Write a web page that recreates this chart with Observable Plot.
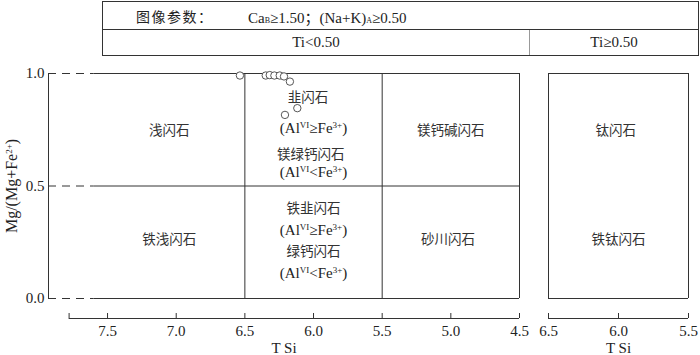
<!DOCTYPE html>
<html><head><meta charset="utf-8">
<script src="https://cdn.jsdelivr.net/npm/d3@7"></script>
<script src="https://cdn.jsdelivr.net/npm/@observablehq/plot@0.6"></script>
<style>
body{margin:0;background:#fff;}
#wrap{position:relative;width:700px;height:355px;font-family:"Liberation Serif","Noto Sans CJK SC",serif;color:#222;overflow:hidden;}
#hdr{position:absolute;left:102px;top:1px;width:597px;height:55px;border:1px solid #333;box-sizing:border-box;font-size:15px;}
#row1{position:absolute;left:0;top:0;width:100%;height:28px;border-bottom:1px solid #333;box-sizing:border-box;}
#hp{position:absolute;left:33px;top:4px;font-size:14px;letter-spacing:1.5px;}
#hc{position:absolute;left:145px;top:4px;}
#hc sub{font-size:8px;vertical-align:baseline;}
#ti1{position:absolute;left:0;top:28px;width:426px;height:25px;border-right:1px solid #999;text-align:center;line-height:25px;}
#ti2{position:absolute;left:427px;top:28px;right:0;height:25px;text-align:center;line-height:25px;}
#pl,#pr{position:absolute;top:0;}
#pl{left:0;} #pr{left:530px;}
</style></head>
<body><div id="wrap">
<div id="hdr"><div id="row1"><span id="hp"></span><span id="hc"></span></div><div id="ti1"></div><div id="ti2"></div></div>
<div id="pl"></div><div id="pr"></div>
</div>
<script>
// ---- data ----
const headerParam = "图像参数：";
const headerCond = "Ca<sub>B</sub>≥1.50；(Na+K)<sub>A</sub>≥0.50";
const tiLabels = ["Ti<0.50", "Ti≥0.50"];

const boundaryY = [0, 0.5, 1];
const frameX = 7.93, boxStartX = 7.6, boxEndX = 4.5, axisEndX = 7.78;
const dividerX = [6.5, 5.5, 4.5];
const xTicksLeft = [7.5, 7.0, 6.5, 6.0, 5.5, 5.0, 4.5];
const xTicksRight = [6.5, 6.0, 5.5];
const yTicks = [0, 0.5, 1.0];
const xTitle = "T Si";
const yTitle = "Mg/(Mg+Fe^{2+})";

const ptsTSi = [6.536, 6.348, 6.319, 6.285, 6.246, 6.215, 6.172, 6.118, 6.208];
const ptsMg  = [0.991, 0.991, 0.993, 0.991, 0.991, 0.987, 0.964, 0.846, 0.816];

const labelNames = ["浅闪石","铁浅闪石","韭闪石","(Al^{VI}≥Fe^{3+})","镁绿钙闪石","(Al^{VI}<Fe^{3+})",
  "铁韭闪石","(Al^{VI}≥Fe^{3+})","绿钙闪石","(Al^{VI}<Fe^{3+})","镁钙碱闪石","砂川闪石"];
const labelX = [7.05, 7.05, 6.04, 6.0, 6.02, 6.0, 6.0, 6.0, 6.0, 6.0, 5.0, 5.02];
const labelY = [0.747, 0.26, 0.893, 0.756, 0.64, 0.56, 0.40, 0.302, 0.206, 0.112, 0.747, 0.26];

const rightNames = ["钛闪石","铁钛闪石"];
const rightX = [6.02, 6.0];
const rightY = [0.747, 0.26];

// ---- header ----
document.getElementById("hp").textContent = headerParam;
document.getElementById("hc").innerHTML = headerCond;
document.getElementById("ti1").textContent = tiLabels[0];
document.getElementById("ti2").textContent = tiLabels[1];

const points = ptsTSi.map((x, i) => ({x, y: ptsMg[i]}));
const labels = labelNames.map((t, i) => ({t, x: labelX[i], y: labelY[i]}));
const rlabels = rightNames.map((t, i) => ({t, x: rightX[i], y: rightY[i]}));
const isLatin = d => d.t.startsWith("(");

const ink = "#333";
const font = {fontFamily: '"Liberation Serif","Noto Sans CJK SC",serif', fontSize: "15px", background: "transparent", color: "#222"};

const left = Plot.plot({
  width: 530, height: 355,
  marginLeft: 48, marginRight: 11, marginTop: 73, marginBottom: 37,
  insetBottom: 20,
  style: font,
  x: {domain: [frameX, boxEndX]},
  y: {domain: [0, 1]},
  marks: [
    Plot.ruleY(boundaryY, {x1: () => frameX, x2: () => boxStartX, stroke: ink, strokeDasharray: "8,6"}),
    Plot.ruleY(boundaryY, {x1: () => boxStartX, x2: () => boxEndX, stroke: ink}),
    Plot.ruleX([frameX], {y1: () => 0, y2: () => 1, stroke: ink}),
    Plot.ruleX(dividerX, {y1: () => 0, y2: () => 1, stroke: ink}),
    Plot.ruleY([0], {x1: () => axisEndX, x2: () => boxEndX, dy: 20, stroke: ink}),
    Plot.axisX({ticks: [axisEndX, ...xTicksLeft], tickSize: -5, tickPadding: 12,
      tickFormat: d => d === axisEndX ? "" : d.toFixed(1), stroke: ink,
      label: xTitle, labelAnchor: "center", labelArrow: "none"}),
    Plot.axisY({ticks: yTicks, tickSize: 0, tickPadding: 4, tickFormat: d3.format(".1f"), label: null}),
    Plot.text([yTitle], {text: d => d, frameAnchor: "left", textAnchor: "middle", y: () => 0.5, rotate: -90, dx: -37, fontSize: 16}),
    Plot.dot(points, {x: "x", y: "y", r: 3.7, stroke: "#444", strokeWidth: 0.9, fill: "white"}),
    Plot.text(labels.filter(d => !isLatin(d)), {x: "x", y: "y", text: "t", fill: "#333", fontSize: 13.5}),
    Plot.text(labels.filter(isLatin), {x: "x", y: "y", text: "t", fill: "#222", fontSize: 15})
  ]
});

const right = Plot.plot({
  width: 170, height: 355,
  marginLeft: 18, marginRight: 12, marginTop: 73, marginBottom: 37,
  insetBottom: 20,
  style: font,
  x: {domain: [6.5, 5.5]},
  y: {domain: [0, 1], axis: null},
  marks: [
    Plot.ruleX([6.5, 5.5], {y1: () => 0, y2: () => 1, stroke: ink}),
    Plot.ruleY([0, 1], {stroke: ink}),
    Plot.ruleY([0], {dy: 20, stroke: ink}),
    Plot.axisX({ticks: xTicksRight, tickSize: -5, tickPadding: 12, tickFormat: d => d.toFixed(1), stroke: ink,
      label: xTitle, labelAnchor: "center", labelArrow: "none"}),
    Plot.text(rlabels, {x: "x", y: "y", text: "t", fill: "#333", fontSize: 13.5})
  ]
});

function supify(svg) {
  svg.querySelectorAll("text").forEach(t => {
    const s = t.textContent;
    if (!s.includes("^{")) return;
    t.textContent = "";
    let raised = false;
    s.split(/(\^\{[^}]*\})/).forEach(p => {
      if (!p) return;
      const ts = document.createElementNS("http://www.w3.org/2000/svg", "tspan");
      if (p.startsWith("^{")) {
        ts.textContent = p.slice(2, -1);
        ts.setAttribute("font-size", "9");
        ts.setAttribute("dy", "-5");
        raised = true;
      } else {
        ts.textContent = p;
        if (raised) { ts.setAttribute("dy", "5"); raised = false; }
      }
      t.appendChild(ts);
    });
  });
}
supify(left); supify(right);
document.getElementById("pl").appendChild(left);
document.getElementById("pr").appendChild(right);
</script>
</body></html>
